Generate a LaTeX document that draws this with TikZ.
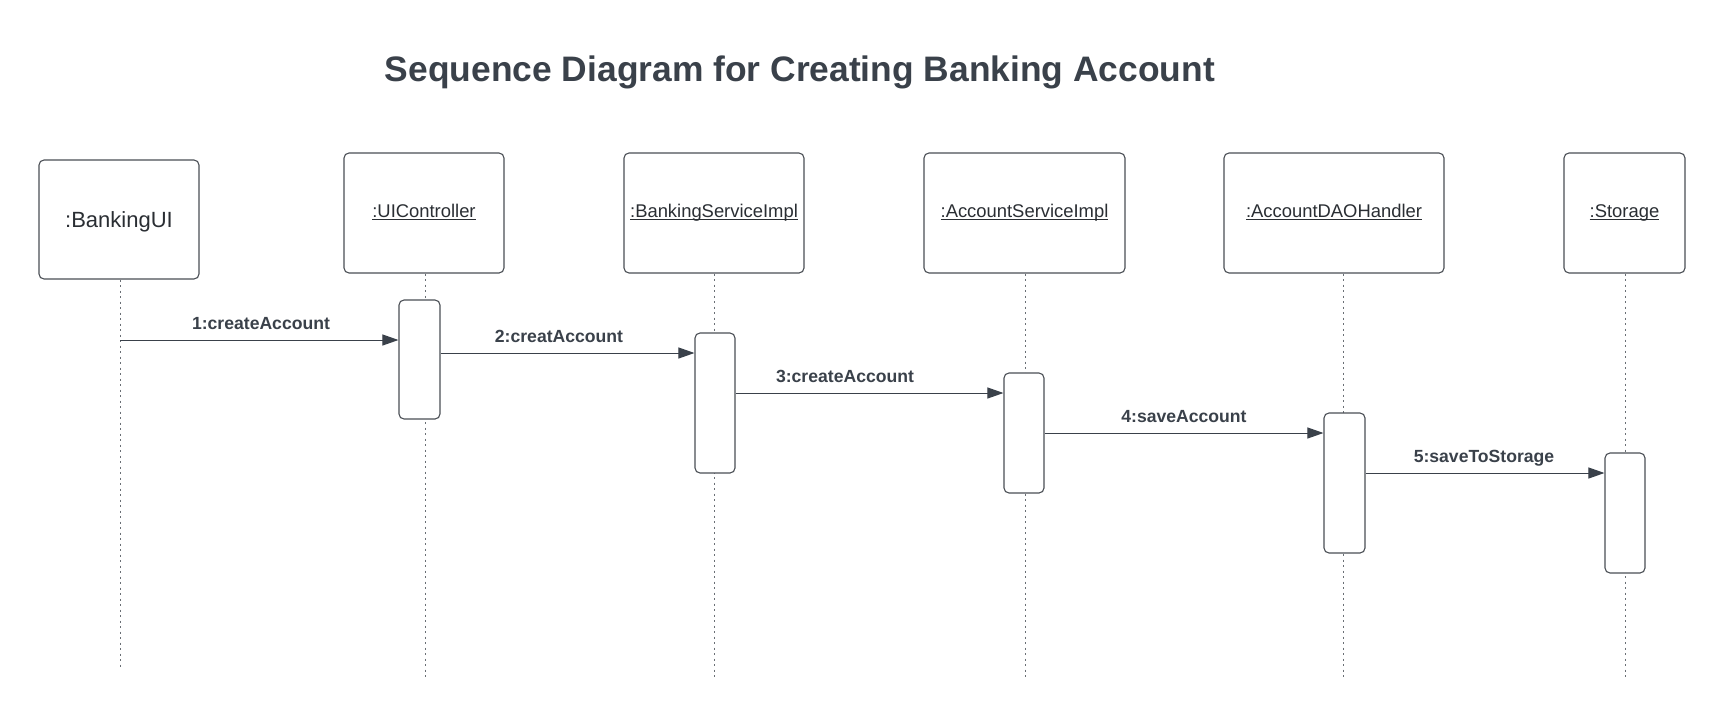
\documentclass[tikz,border=0pt]{standalone}
\usepackage{fontspec}
\setmainfont{Liberation Sans}
\usetikzlibrary{arrows.meta}
\definecolor{ink}{HTML}{3A414A}
\definecolor{edge}{HTML}{4A4F55}
\definecolor{dots}{HTML}{6A6F75}
\definecolor{nametext}{HTML}{2A2E33}
\newcommand\uln[1]{\setbox0=\hbox{#1}\hbox{\copy0\kern-\wd0\rule[-2.2pt]{\wd0}{0.9pt}}}
\begin{document}
\begin{tikzpicture}[x=1pt,y=-1pt,
  actor/.style={draw=edge, line width=1.1pt, rounded corners=5pt, fill=white, inner sep=0pt,
    text=nametext, font=\fontsize{18.4}{22}\selectfont, text height=13.5pt, text depth=5pt},
  actbox/.style={draw=edge, line width=1.1pt, rounded corners=5pt, fill=white, minimum width=40pt, inner sep=0pt},
  lifeline/.style={draw=dots, line width=0.8pt, dash pattern=on 2pt off 3.5pt},
  msg/.style={draw=ink, line width=1pt, -{Triangle[length=16pt,width=11pt]}},
  msglabel/.style={font=\fontsize{17.6}{20}\selectfont\bfseries, text=ink, anchor=base, inner sep=0pt}]
\useasboundingbox[fill=white] (0,0) rectangle (1725,713);

% title
\node[anchor=base, inner sep=0pt, text=ink, font=\fontsize{35.4}{40}\selectfont\bfseries] (title) at (800,81)
  {Sequence Diagram for Creating Banking Account};

% actors
\node[actor, minimum width=160pt, minimum height=119pt, font=\fontsize{22}{26}\selectfont, text height=16pt, text depth=1pt] (bui) at (119,219.5) {:BankingUI};
\node[actor, minimum width=160pt, minimum height=120pt] (uic) at (424,213) {\uln{:UIController}};
\node[actor, minimum width=180pt, minimum height=120pt] (bsi) at (714,213) {\uln{:BankingServiceImpl}};
\node[actor, minimum width=201pt, minimum height=120pt] (asi) at (1024.5,213) {\uln{:AccountServiceImpl}};
\node[actor, minimum width=220pt, minimum height=120pt] (dao) at (1334,213) {\uln{:AccountDAOHandler}};
\node[actor, minimum width=121pt, minimum height=120pt] (sto) at (1624.5,213) {\uln{:Storage}};

% lifeline ends
\coordinate (buiEnd) at (120,670);
\coordinate (uicEnd) at (425,678);
\coordinate (bsiEnd) at (714,678);
\coordinate (asiEnd) at (1025,678);
\coordinate (daoEnd) at (1343,678);
\coordinate (stoEnd) at (1625,678);

\draw[lifeline] (bui.south -| buiEnd) -- (buiEnd);
\draw[lifeline] (uic.south -| uicEnd) -- (uicEnd);
\draw[lifeline] (bsi.south -| bsiEnd) -- (bsiEnd);
\draw[lifeline] (asi.south -| asiEnd) -- (asiEnd);
\draw[lifeline] (dao.south -| daoEnd) -- (daoEnd);
\draw[lifeline] (sto.south -| stoEnd) -- (stoEnd);

% activations
\node[actbox, minimum width=41pt, minimum height=119pt] (a1) at (419.5,359.5) {};
\node[actbox, minimum height=140pt] (a2) at (715,403) {};
\node[actbox, minimum height=120pt] (a3) at (1024,433) {};
\node[actbox, minimum width=41pt, minimum height=140pt] (a4) at (1344.5,483) {};
\node[actbox, minimum height=120pt] (a5) at (1625,513) {};

% messages
\draw[msg] (buiEnd |- 0,340) -- (a1.west |- 0,340);
\draw[msg] (a1.east |- 0,353) -- (a2.west |- 0,353);
\draw[msg] (a2.east |- 0,393) -- (a3.west |- 0,393);
\draw[msg] (a3.east |- 0,433) -- (a4.west |- 0,433);
\draw[msg] (a4.east |- 0,473) -- (a5.west |- 0,473);

\node[msglabel] (l1) at (261,329) {1:createAccount};
\node[msglabel] (l2) at (559,342) {2:creatAccount};
\node[msglabel] (l3) at (845,382) {3:createAccount};
\node[msglabel] (l4) at (1184,422) {4:saveAccount};
\node[msglabel] (l5) at (1484,462) {5:saveToStorage};
\end{tikzpicture}
\end{document}
